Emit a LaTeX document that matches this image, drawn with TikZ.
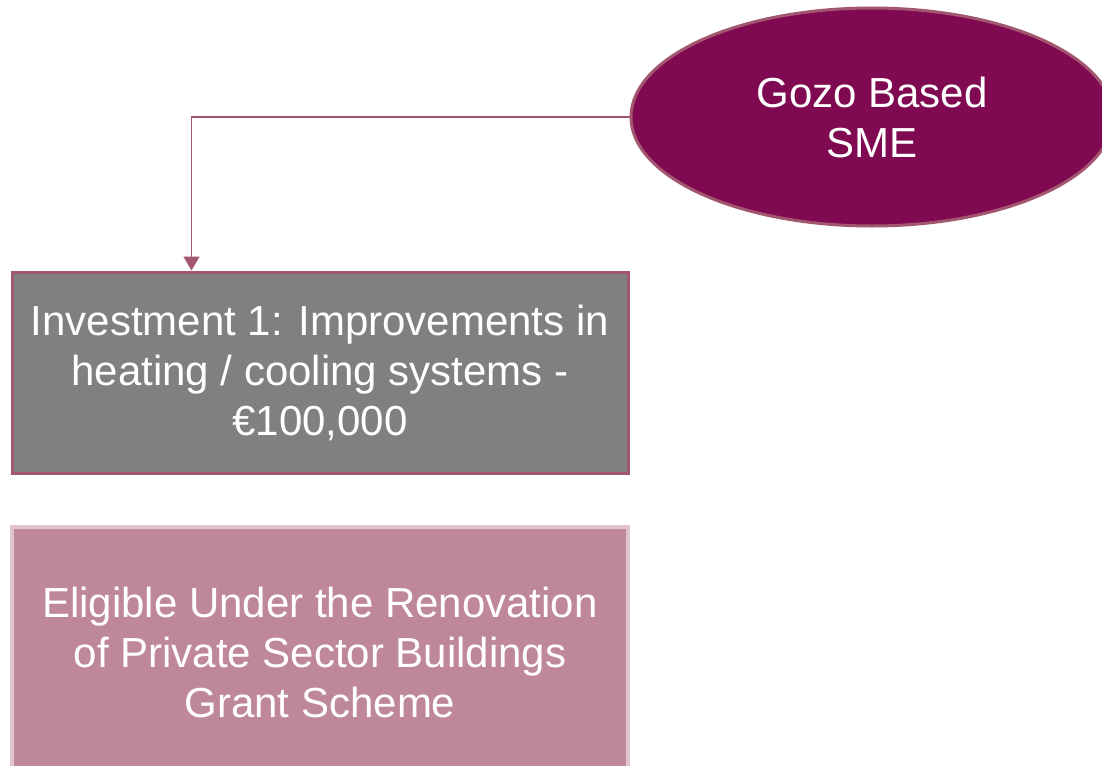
\documentclass[tikz,border=0pt]{standalone}
\usepackage{fontspec}
\setmainfont{Liberation Sans}
\usetikzlibrary{shapes.geometric,arrows.meta}

\definecolor{smeFill}{HTML}{7F0A51}
\definecolor{linkColour}{HTML}{A3566F}
\definecolor{invFill}{HTML}{808080}
\definecolor{grantFill}{HTML}{BF8898}
\definecolor{grantBorder}{HTML}{E2C4D0}

\tikzset{
  boxtext/.style={text=white, align=center, font=\fontsize{42}{50}\selectfont},
  smenode/.style={boxtext, ellipse, fill=smeFill, draw=linkColour, line width=3pt,
    minimum width=482, minimum height=218, inner sep=0pt},
  investbox/.style={boxtext, rectangle, fill=invFill, draw=linkColour, line width=3pt,
    minimum width=616, minimum height=201, inner sep=0pt},
  grantbox/.style={boxtext, rectangle, fill=grantFill, draw=grantBorder, line width=4pt,
    minimum width=616, minimum height=250, inner sep=0pt},
  link/.style={draw=linkColour, line width=1.5pt, -{Triangle[length=14pt,width=16pt]}}
}

\begin{document}
\begin{tikzpicture}[x=1pt, y=1pt]
    \useasboundingbox (0,0) rectangle (1102,-765);

    % Top: the SME ellipse (runs off the right edge)
    \node[smenode] (sme) at (872,-117) {Gozo Based\\SME};

    % Investment box
    \node[investbox] (inv) at (320,-372.5) {Investment 1: Improvements in\\heating / cooling systems -\\€100,000};

    % Grant scheme box (runs off the bottom edge)
    \node[grantbox] (grant) at (320,-652) {Eligible Under the Renovation\\of Private Sector Buildings\\Grant Scheme};

    % Connector from the ellipse down into the box
    \coordinate (drop) at ([xshift=181]inv.north west);
    \draw[link] (sme.west) -| (drop);

\end{tikzpicture}
\end{document}
